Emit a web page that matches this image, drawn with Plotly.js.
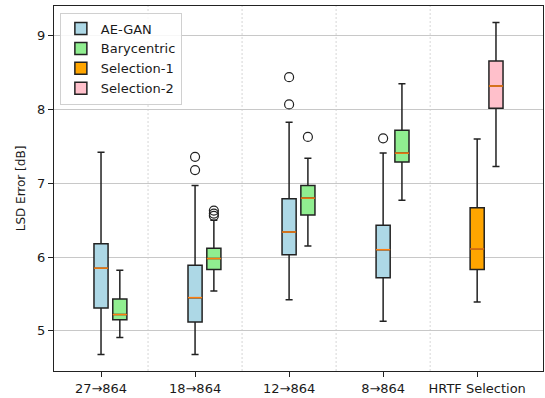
<!DOCTYPE html>
<html><head><meta charset="utf-8">
<script src="https://cdn.plot.ly/plotly-3.0.1.min.js"></script>
<style>html,body{margin:0;padding:0;background:#fff}#chart{width:545px;height:398px}</style>
</head><body><div id="chart"></div>
<script>
// ---- data ----
const categories = ['27→864', '18→864', '12→864', '8→864', 'HRTF Selection'];

// AE-GAN: groups 1-4
const aeganLow  = [4.68, 4.68, 5.42, 5.13];
const aeganQ1   = [5.31, 5.12, 6.03, 5.72];
const aeganMed  = [5.85, 5.45, 6.34, 6.10];
const aeganQ3   = [6.18, 5.89, 6.79, 6.43];
const aeganHigh = [7.42, 6.97, 7.83, 7.41];
const aeganOut  = [[], [7.18, 7.36], [8.07, 8.44], [7.61]];

// Barycentric: groups 1-4
const baryLow  = [4.91, 5.54, 6.15, 6.77];
const baryQ1   = [5.15, 5.83, 6.57, 7.29];
const baryMed  = [5.22, 5.98, 6.80, 7.41];
const baryQ3   = [5.43, 6.12, 6.97, 7.72];
const baryHigh = [5.82, 6.50, 7.34, 8.35];
const baryOut  = [[], [6.56, 6.59, 6.63], [7.63], []];

// Selection-1 / Selection-2: group 5
const sel1Low = [5.39], sel1Q1 = [5.83], sel1Med = [6.11], sel1Q3 = [6.67], sel1High = [7.60];
const sel2Low = [7.23], sel2Q1 = [8.02], sel2Med = [8.32], sel2Q3 = [8.66], sel2High = [9.18];

// ---- layout constants ----
const BOXW = 0.15, OFFSET = 0.2;
const series = [
  {name: 'AE-GAN', color: '#add8e6', groups: [0,1,2,3], off: 0, low: aeganLow, q1: aeganQ1, med: aeganMed, q3: aeganQ3, high: aeganHigh, out: aeganOut},
  {name: 'Barycentric', color: '#90ee90', groups: [0,1,2,3], off: OFFSET, low: baryLow, q1: baryQ1, med: baryMed, q3: baryQ3, high: baryHigh, out: baryOut},
  {name: 'Selection-1', color: '#ffa500', groups: [4], off: 0, low: sel1Low, q1: sel1Q1, med: sel1Med, q3: sel1Q3, high: sel1High, out: [[]]},
  {name: 'Selection-2', color: '#ffc0cb', groups: [4], off: OFFSET, low: sel2Low, q1: sel2Q1, med: sel2Med, q3: sel2Q3, high: sel2High, out: [[]]}
];

const traces = [];
const medX = [], medY = [], outX = [], outY = [];
series.forEach(s => {
  const xs = s.groups.map(g => g + 1 + s.off);
  traces.push({
    type: 'box', name: s.name, x: xs,
    q1: s.q1, median: s.med, q3: s.q3, lowerfence: s.low, upperfence: s.high,
    width: BOXW, whiskerwidth: 0.5, boxpoints: false,
    fillcolor: s.color, line: {color: '#222', width: 1.5},
    hoverinfo: 'skip'
  });
  xs.forEach((x, i) => {
    medX.push(x - BOXW / 2, x + BOXW / 2, null);
    medY.push(s.med[i], s.med[i], null);
    s.out[i].forEach(v => { outX.push(x); outY.push(v); });
  });
});
traces.push({type: 'scatter', mode: 'lines', x: medX, y: medY, line: {color: '#ff7f0e', width: 1.5}, showlegend: false, hoverinfo: 'skip'});
traces.push({type: 'scatter', mode: 'markers', x: outX, y: outY, marker: {symbol: 'circle-open', size: 9, color: '#222', line: {width: 1.2}}, showlegend: false, hoverinfo: 'skip'});

const shapes = [];
for (let i = 1; i < categories.length; i++) {
  shapes.push({type: 'line', xref: 'x', yref: 'paper', x0: i + 0.5, x1: i + 0.5, y0: 0, y1: 1,
    line: {color: '#c4c4c4', width: 0.7, dash: '2px,2px'}, layer: 'below'});
}

const layout = {
  width: 545, height: 398,
  margin: {l: 54, r: 2, t: 6, b: 27},
  paper_bgcolor: '#fff', plot_bgcolor: '#fff',
  font: {family: 'DejaVu Sans, sans-serif', size: 13, color: '#1a1a1a'},
  showlegend: true,
  legend: {x: 0.012, y: 0.982, xanchor: 'left', yanchor: 'top', bgcolor: 'rgba(255,255,255,0.85)',
    bordercolor: '#d0d0d0', borderwidth: 1, font: {size: 13}},
  xaxis: {range: [0.5, 5.7], tickmode: 'array', tickvals: categories.map((c, i) => i + 1), ticktext: categories,
    showgrid: false, zeroline: false, showline: true, mirror: true, linecolor: '#222', linewidth: 1,
    ticks: 'outside', ticklen: 5, tickcolor: '#222'},
  yaxis: {range: [4.455, 9.405], tickvals: [5, 6, 7, 8, 9], showgrid: true, gridcolor: '#c8c8c8', gridwidth: 1,
    zeroline: false, showline: true, mirror: true, linecolor: '#222', linewidth: 1,
    ticks: 'outside', ticklen: 5, tickcolor: '#222',
    title: {text: 'LSD Error [dB]', font: {size: 12}, standoff: 8}},
  shapes: shapes
};

Plotly.newPlot('chart', traces, layout, {staticPlot: true, displayModeBar: false});
</script>
</body></html>
